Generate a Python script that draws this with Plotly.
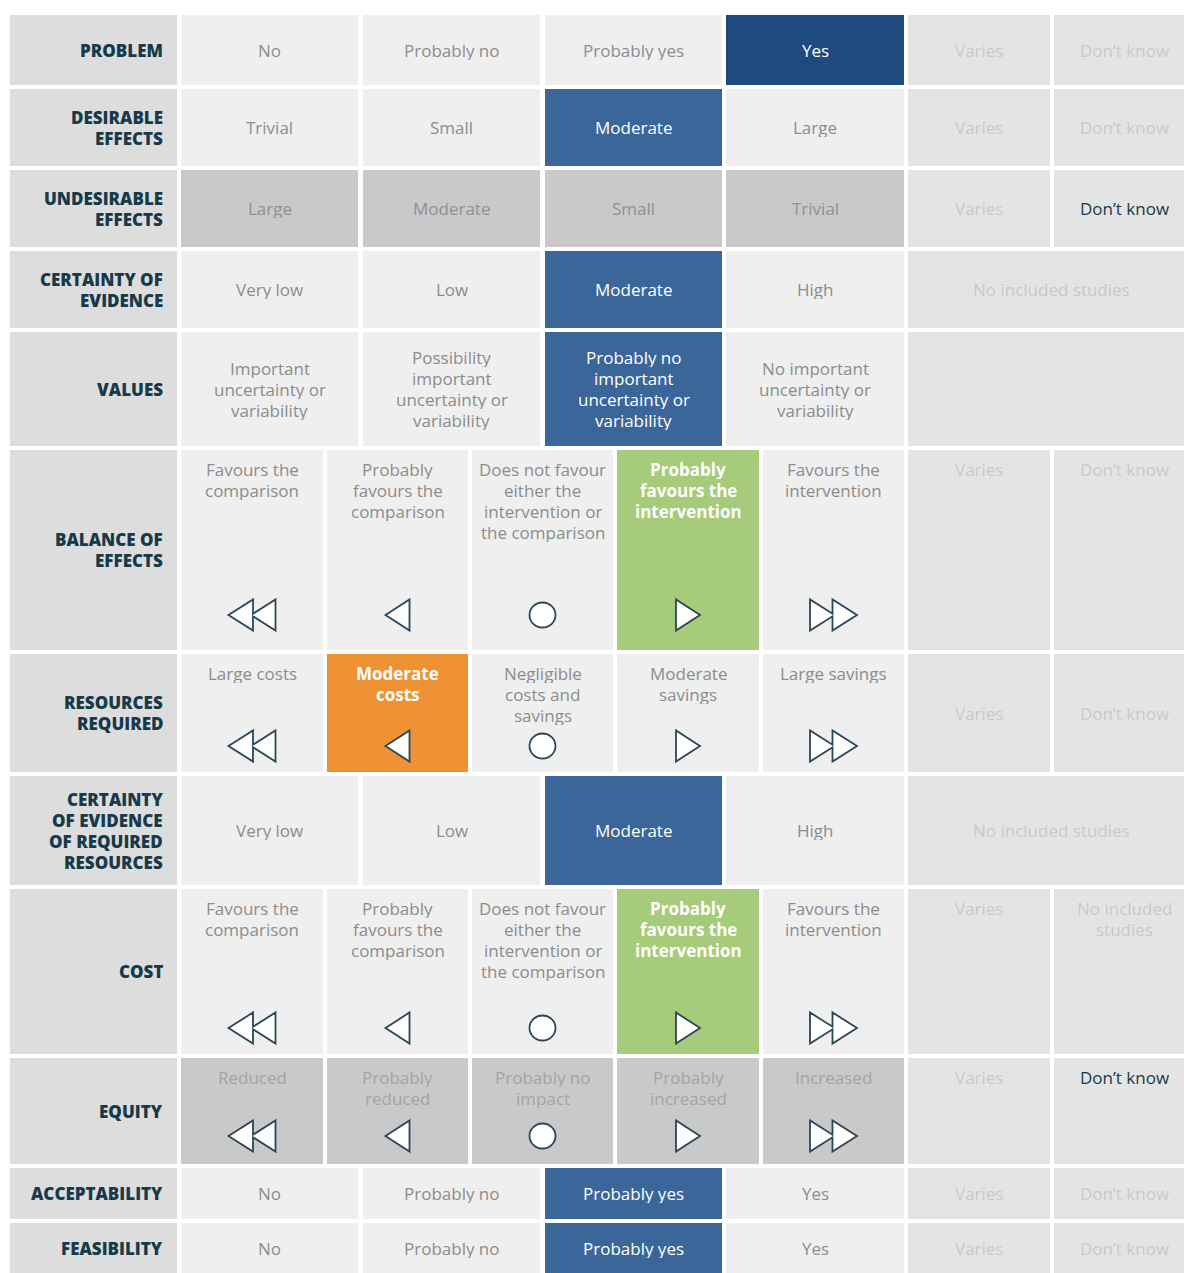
import plotly.graph_objects as go

# ---------------- DATA ----------------
criteria = [
    "PROBLEM",
    "DESIRABLE<br>EFFECTS",
    "UNDESIRABLE<br>EFFECTS",
    "CERTAINTY OF<br>EVIDENCE",
    "VALUES",
    "BALANCE OF<br>EFFECTS",
    "RESOURCES<br>REQUIRED",
    "CERTAINTY<br>OF EVIDENCE<br>OF REQUIRED<br>RESOURCES",
    "COST",
    "EQUITY",
    "ACCEPTABILITY",
    "FEASIBILITY",
]

judgements = [
    ["No", "Probably no", "Probably yes", "Yes"],
    ["Trivial", "Small", "Moderate", "Large"],
    ["Large", "Moderate", "Small", "Trivial"],
    ["Very low", "Low", "Moderate", "High"],
    ["Important<br>uncertainty or<br>variability",
     "Possibility<br>important<br>uncertainty or<br>variability",
     "Probably no<br>important<br>uncertainty or<br>variability",
     "No important<br>uncertainty or<br>variability"],
    ["Favours the<br>comparison", "Probably<br>favours the<br>comparison",
     "Does not favour<br>either the<br>intervention or<br>the comparison",
     "Probably<br>favours the<br>intervention", "Favours the<br>intervention"],
    ["Large costs", "Moderate<br>costs", "Negligible<br>costs and<br>savings",
     "Moderate<br>savings", "Large savings"],
    ["Very low", "Low", "Moderate", "High"],
    ["Favours the<br>comparison", "Probably<br>favours the<br>comparison",
     "Does not favour<br>either the<br>intervention or<br>the comparison",
     "Probably<br>favours the<br>intervention", "Favours the<br>intervention"],
    ["Reduced", "Probably<br>reduced", "Probably no<br>impact",
     "Probably<br>increased", "Increased"],
    ["No", "Probably no", "Probably yes", "Yes"],
    ["No", "Probably no", "Probably yes", "Yes"],
]

selected = [3, 2, None, 2, 2, 3, 1, 2, 3, None, 2, 2]
selected_kind = ["navy", "blue", None, "blue", "blue", "green", "orange",
                 "blue", "green", None, "blue", "blue"]

extras = [
    ["Varies", "Don’t know"],
    ["Varies", "Don’t know"],
    ["Varies", "Don’t know"],
    ["No included studies"],
    [""],
    ["Varies", "Don’t know"],
    ["Varies", "Don’t know"],
    ["No included studies"],
    ["Varies", "No included<br>studies"],
    ["Varies", "Don’t know"],
    ["Varies", "Don’t know"],
    ["Varies", "Don’t know"],
]
extra_chosen = [None, None, 1, None, None, None, None, None, None, 1, None, None]

greyed_rows = [2, 9]
icon_rows = [5, 6, 8, 9]
icon_kinds = ["ff_left", "left", "circle", "right", "ff_right"]
top_text_rows = [5, 6, 8, 9]
top_extra_rows = [5, 8, 9]

# ---------------- LAYOUT GEOMETRY ----------------
W, H = 1184, 1273
label_x = (10, 177)
cols4 = [(181, 358), (363, 540), (545, 722), (726, 904)]
cols5 = [(181, 323), (327, 468), (472, 613), (617, 759), (763, 904)]
extra2 = [(908, 1050), (1054, 1195)]
extra1 = [(908, 1195)]
rows = [(15, 85), (89, 166), (170, 247), (251, 328), (332, 446), (450, 650),
        (654, 772), (776, 885), (889, 1054), (1058, 1164), (1168, 1219), (1223, 1273)]
icon_y = {5: 615, 6: 746, 8: 1028, 9: 1136}
LINE_H = 21
TOP_PAD = 19.5

# ---------------- STYLE ----------------
FONT = "Open Sans"
C_LABEL_BG = "#dddddd"
C_CELL = "#efefef"
C_EXTRA = "#e4e4e4"
C_GREY = "#c9c9c9"
C_TXT = "#8c8c8c"
C_TXT_GREY = {2: "#909094", 9: "#a4a4a4"}
C_FADED = "#c9c9c9"
C_DARK = "#173a4b"
SEL_BG = {"navy": "#1f4a7f", "blue": "#3b669a", "green": "#a6cb7b", "orange": "#ef9233"}
SEL_BOLD = {"navy": False, "blue": False, "green": True, "orange": True}
ICON_LINE = "#2c4756"

shapes = []
annotations = []


def rect(x0, x1, y0, y1, color):
    shapes.append(dict(type="rect", xref="x", yref="y", x0=x0, x1=x1, y0=y0, y1=y1,
                       fillcolor=color, line=dict(width=0), layer="below"))


def text(x, y, s, color, size=17, weight="normal", xanchor="center", top=None):
    lines = s.split("<br>")
    n = len(lines)
    for k, ln in enumerate(lines):
        if top is None:
            yy = y + (k - (n - 1) / 2) * LINE_H
        else:
            yy = top + TOP_PAD + k * LINE_H
        annotations.append(dict(x=x, y=yy, xref="x", yref="y", text=ln, showarrow=False,
                                xanchor=xanchor, yanchor="middle", borderpad=0,
                                height=LINE_H - 2, valign="middle",
                                font=dict(family=FONT, size=size, color=color, weight=weight)))


def icon(kind, cx, cy):
    h = 15.5
    st = dict(xref="x", yref="y", fillcolor="white",
              line=dict(color=ICON_LINE, width=1.8), layer="above")
    if kind == "circle":
        shapes.append(dict(type="circle", x0=cx - 13, x1=cx + 13, y0=cy - 12.5, y1=cy + 12.5, **st))
        return
    if kind in ("left", "right"):
        pts = [(-12, 0), (12, -h), (12, h)]
    else:
        t1, b1, t2, b2 = -23.5, 1.0, -1.0, 23.5
        yo = h * (b1 - t2) / (b2 - t2)
        pts = [(t1, 0), (b1, -h), (b1, -yo), (b2, -h), (b2, h), (b1, yo), (b1, h)]
    sgn = -1 if kind in ("right", "ff_right") else 1
    path = "M " + " L ".join(f"{cx + sgn * px:.2f},{cy + py:.2f}" for px, py in pts) + " Z"
    shapes.append(dict(type="path", path=path, **st))


for r, (y0, y1) in enumerate(rows):
    ym = (y0 + y1) / 2
    rect(label_x[0], label_x[1], y0, y1, C_LABEL_BG)
    text(label_x[1] - 13, ym, criteria[r], C_DARK, size=17, weight=800, xanchor="right")

    opts = judgements[r]
    cols = cols5 if len(opts) == 5 else cols4
    for i, s in enumerate(opts):
        x0, x1 = cols[i]
        cx = (x0 + x1) / 2
        if selected[r] == i:
            kind = selected_kind[r]
            bg, tc = SEL_BG[kind], "white"
            wt = "bold" if SEL_BOLD[kind] else "normal"
        elif r in greyed_rows:
            bg, tc, wt = C_GREY, C_TXT_GREY[r], "normal"
        else:
            bg, tc, wt = C_CELL, C_TXT, "normal"
        rect(x0, x1, y0, y1, bg)
        text(cx, ym, s, tc, weight=wt, top=(y0 if r in top_text_rows else None))
        if r in icon_rows:
            icon(icon_kinds[i], cx, icon_y[r])

    ex = extras[r]
    ecols = extra2 if len(ex) == 2 else extra1
    for j, s in enumerate(ex):
        x0, x1 = ecols[j]
        cx = (x0 + x1) / 2
        rect(x0, x1, y0, y1, C_EXTRA)
        tc = C_DARK if extra_chosen[r] == j else C_FADED
        if s:
            text(cx, ym, s, tc, top=(y0 if r in top_extra_rows else None))

fig = go.Figure()
fig.add_trace(go.Scatter(x=[0, W], y=[0, H], mode="markers",
                         marker=dict(opacity=0), hoverinfo="skip", showlegend=False))
fig.update_layout(
    width=W, height=H, margin=dict(l=0, r=0, t=0, b=0),
    paper_bgcolor="white", plot_bgcolor="white",
    xaxis=dict(range=[0, W], visible=False, fixedrange=True),
    yaxis=dict(range=[H, 0], visible=False, fixedrange=True),
    shapes=shapes, annotations=annotations, showlegend=False,
)
fig.write_html("out.html", config={"displayModeBar": False},
               post_script="document.body.style.margin='0';document.body.style.overflow='hidden';")
